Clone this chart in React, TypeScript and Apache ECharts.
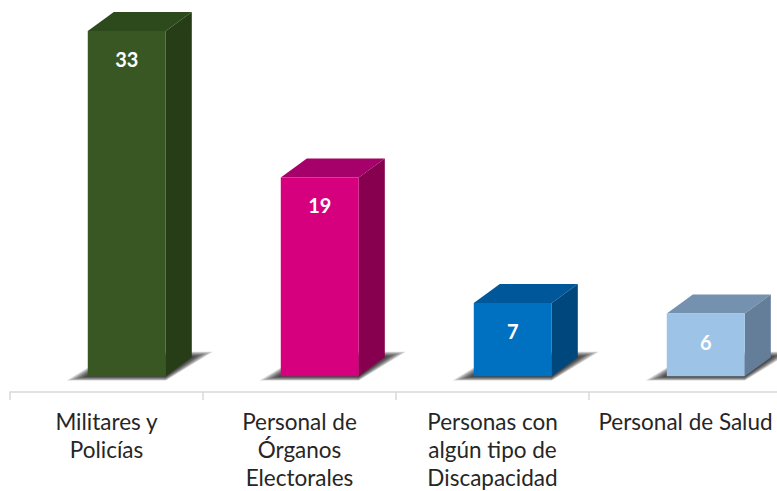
import React, { useEffect, useRef } from "react";
import * as echarts from "echarts";

const categories = [
  "Militares y\nPolicías",
  "Personal de\nÓrganos\nElectorales",
  "Personas con\nalgún tipo de\nDiscapacidad",
  "Personal de Salud",
];
const values = [33, 19, 7, 6];
const frontColors = ["#385723", "#d6007f", "#0070c0", "#9dc3e6"];
const topColors = ["#2d4a1d", "#a6006a", "#00589a", "#7492b0"];
const sideColors = ["#263d17", "#86004f", "#00477e", "#647d99"];

export default function App() {
  const ref = useRef<HTMLDivElement>(null);
  useEffect(() => {
    if (!ref.current) return;
    const chart = echarts.init(ref.current, null, { renderer: "svg" });
    const renderItem = (params: any, api: any) => {
      const i = params.dataIndex;
      const xv = api.value(0);
      const v = api.value(1);
      const base = api.coord([xv, 0]);
      const top = api.coord([xv, v]);
      const band = api.size([1, 0])[0];
      const w = band * 0.404;
      const off = band * 0.105;
      const dx = band * 0.135;
      const dy = dx * 0.73;
      const L = base[0] - w / 2 + off;
      const R = L + w;
      const yb = base[1];
      const yt = top[1];
      const shadows: any[] = [];
      for (let k = 7; k >= 1; k--) {
        shadows.push({
          type: "polygon",
          shape: {
            points: [
              [L - 3 * k, yb + 0.6 * k],
              [R, yb + 0.6 * k],
              [R + dx + 3 * k, yb - dy - 0.8 * k],
              [L + dx, yb - dy - 0.8 * k],
            ],
          },
          style: { fill: "rgba(0,0,0,0.16)" },
        });
      }
      return {
        type: "group",
        children: [
          ...shadows,
          {
            type: "polygon",
            shape: {
              points: [
                [L, yt],
                [R, yt],
                [R + dx, yt - dy],
                [L + dx, yt - dy],
              ],
            },
            style: { fill: topColors[i] },
          },
          {
            type: "polygon",
            shape: {
              points: [
                [R, yt],
                [R + dx, yt - dy],
                [R + dx, yb - dy],
                [R, yb],
              ],
            },
            style: { fill: sideColors[i] },
          },
          {
            type: "rect",
            shape: { x: L, y: yt, width: w, height: yb - yt },
            style: { fill: frontColors[i] },
          },
          {
            type: "text",
            x: (L + R) / 2,
            y: yt + 28,
            style: {
              text: String(v),
              fill: "#ffffff",
              font: "bold 20px Lato",
              align: "center",
              verticalAlign: "middle",
            },
          },
        ],
      };
    };
    chart.setOption({
      animation: false,
      grid: {
        left: 10,
        right: -5,
        top: 10,
        bottom: 99,
        containLabel: false,
        outerBoundsMode: "none",
      },
      xAxis: {
        type: "category",
        data: categories,
        axisLine: { onZero: false, lineStyle: { color: "#d9d9d9", width: 1.5 } },
        axisTick: { show: true, length: 8, lineStyle: { color: "#d9d9d9", width: 1.5 } },
        axisLabel: {
          interval: 0,
          color: "#262626",
          fontFamily: "Lato",
          fontSize: 22.5,
          lineHeight: 28,
          margin: 15,
        },
        splitLine: { show: false },
      },
      yAxis: {
        type: "value",
        min: -1.5,
        max: 35,
        show: false,
        splitLine: { show: false },
      },
      series: [
        {
          type: "custom",
          renderItem,
          clip: false,
          encode: { x: 0, y: 1 },
          data: values.map((v, i) => [i, v]),
        },
      ],
    });
    return () => chart.dispose();
  }, []);
  return <div ref={ref} style={{ width: 777, height: 491, position: "absolute", left: 0, top: 0 }} />;
}
